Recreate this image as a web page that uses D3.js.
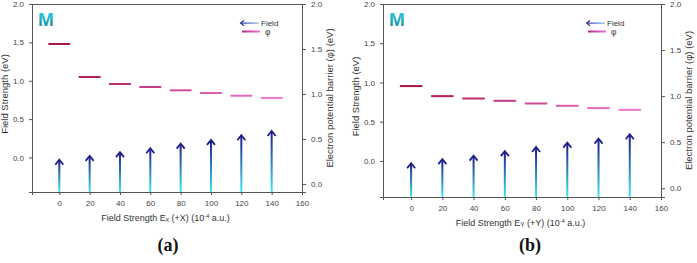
<!DOCTYPE html>
<html>
<head>
<meta charset="utf-8">
<script src="https://cdn.jsdelivr.net/npm/d3@7"></script>
<style>
  body { margin: 0; background: #fff; }
  svg { display: block; font-family: "Liberation Sans", Arial, sans-serif; }
  .serif { font-family: "Liberation Serif", "Times New Roman", Times, serif; }
</style>
</head>
<body>
<script>
// data
const fieldX = [0, 20, 40, 60, 80, 100, 120, 140];
const xTicks = [0, 20, 40, 60, 80, 100, 120, 140, 160];
const yTicks = [0.0, 0.5, 1.0, 1.5, 2.0];

const phiA   = [1.556, 1.189, 1.111, 1.078, 1.041, 1.011, 0.981, 0.956];
const fieldA = [-0.03, 0.02, 0.07, 0.12, 0.18, 0.23, 0.29, 0.345];

const phiB   = [1.109, 1.0, 0.974, 0.949, 0.92, 0.895, 0.87, 0.851];
const fieldB = [-0.03, 0.022, 0.068, 0.124, 0.178, 0.233, 0.284, 0.34];

const W = 697, H = 263;
const svg = d3.select("body").append("svg")
   .attr("width", W)
   .attr("height", H);

// gradients
const defs = svg.append("defs");
function vGrad(id, top, bottom) {
  const g = defs.append("linearGradient").attr("id", id)
     .attr("x1", 0).attr("y1", 0).attr("x2", 0).attr("y2", 1);
  g.append("stop").attr("offset", "0%").attr("stop-color", top);
  g.append("stop").attr("offset", "100%").attr("stop-color", bottom);
}
function hGrad(id, left, right) {
  const g = defs.append("linearGradient").attr("id", id)
     .attr("x1", 0).attr("y1", 0).attr("x2", 1).attr("y2", 0);
  g.append("stop").attr("offset", "0%").attr("stop-color", left);
  g.append("stop").attr("offset", "100%").attr("stop-color", right);
}
vGrad("arrowGrad", "#1c1c8c", "#3fe6f2");
vGrad("mGrad", "#2fd3e6", "#0f8799");
hGrad("legArrow", "#2a2a9a", "#7fc0ee");
hGrad("legPhi", "#b8257e", "#f07ad6");

const phiColor = d3.interpolateRgb("#a8114a", "#ee78d4");

function ShowPanel(o) {
  const g = svg.append("g").attr("transform", "translate(" + o.left + "," + o.top + ")");
  const w = o.width, h = o.height;

  const x = d3.scaleLinear().domain([-18, 160]).range([0, w]);
  const yL = d3.scaleLinear().domain(o.leftDomain).range([h, 0]);
  const yR = d3.scaleLinear().domain(o.rightDomain).range([h, 0]);

  const fmt = d3.format(".1f");

  const ax = g.append("g").attr("transform", "translate(0," + h + ")")
     .call(d3.axisBottom(x).tickValues(xTicks).tickSize(3).tickPadding(5));
  const al = g.append("g")
     .call(d3.axisLeft(yL).tickValues(yTicks).tickFormat(fmt).tickSize(3).tickPadding(5));
  const ar = g.append("g").attr("transform", "translate(" + w + ",0)")
     .call(d3.axisRight(yR).tickValues(yTicks).tickFormat(fmt).tickSize(4).tickPadding(5));

  [ax, al, ar].forEach(a => {
    a.select(".domain").attr("stroke", "#555");
    a.selectAll(".tick line").attr("stroke", "#555");
    a.selectAll(".tick text").attr("fill", "#444").style("font-size", "8px")
      .style("font-family", "'Liberation Sans', Arial, sans-serif");
  });

  // top border
  g.append("line")
     .attr("x1", 0).attr("x2", w).attr("y1", 0.5).attr("y2", 0.5)
     .attr("stroke", "#555");

  // phi segments
  g.selectAll(".phi")
     .data(o.phi)
     .enter()
     .append("rect")
     .attr("x", (d, i) => x(fieldX[i] - 7.2))
     .attr("width", (d, i) => x(fieldX[i] + 7.2) - x(fieldX[i] - 7.2))
     .attr("y", d => yR(d) - 1)
     .attr("height", 2)
     .style("fill", (d, i) => phiColor(i / (o.phi.length - 1)));

  // field arrows
  const arrows = g.selectAll(".arrow")
     .data(o.field)
     .enter()
     .append("g");
  arrows.append("rect")
     .attr("x", (d, i) => x(fieldX[i]) - 1)
     .attr("width", 2)
     .attr("y", d => yL(d) + 1)
     .attr("height", d => h - yL(d) - 1)
     .style("fill", "url(#arrowGrad)");
  arrows.append("path")
     .attr("d", (d, i) => {
       const cx = x(fieldX[i]), ty = yL(d);
       return "M" + (cx - 4) + "," + (ty + 5) + "L" + cx + "," + ty + "L" + (cx + 4) + "," + (ty + 5);
     })
     .attr("fill", "none")
     .attr("stroke", "#1c1c8c")
     .attr("stroke-width", 1.8)
     .attr("stroke-linejoin", "miter");

  // M label
  g.append("text")
     .attr("x", 6)
     .attr("y", 22)
     .style("font-size", "19px")
     .style("font-weight", "bold")
     .style("fill", "url(#mGrad)")
     .text("M");

  // legend
  const lg = g.append("g").attr("transform", "translate(" + o.legX + ",0)");
  lg.append("rect").attr("x", 2).attr("y", 18.5).attr("width", 18).attr("height", 1.2)
     .style("fill", "url(#legArrow)");
  lg.append("path").attr("d", "M5,16.5L1.5,19.1L5,21.7")
     .attr("fill", "none").attr("stroke", "#2a2a9a").attr("stroke-width", 1.1);
  lg.append("text").attr("x", 22).attr("y", 21.8)
     .style("font-size", "8px").style("fill", "#333").text("Field");
  lg.append("rect").attr("x", 3).attr("y", 26.5).attr("width", 18).attr("height", 2)
     .style("fill", "url(#legPhi)");
  lg.append("text").attr("x", 26).attr("y", 30.5)
     .style("font-size", "8.5px").style("fill", "#333").text("φ");

  // axis titles
  g.append("text")
     .attr("transform", "rotate(-90)")
     .attr("x", -h / 2 + 4)
     .attr("y", -24)
     .attr("text-anchor", "middle")
     .style("font-size", "9.5px").style("fill", "#333")
     .text("Field Strength (eV)");

  g.append("text")
     .attr("transform", "rotate(-90)")
     .attr("x", -h / 2)
     .attr("y", w + 31)
     .attr("text-anchor", "middle")
     .style("font-size", "9.5px").style("fill", "#333")
     .text("Electron potential barrier (φ) (eV)");

  const xt = g.append("text")
     .attr("x", x(o.titleCenter))
     .attr("y", h + 29)
     .attr("text-anchor", "middle")
     .style("font-size", "9px").style("fill", "#333");
  xt.append("tspan").text("Field Strength E");
  xt.append("tspan").style("font-size", "6.5px").attr("dy", 1).text(o.sub);
  xt.append("tspan").attr("dy", -1).text(" (+" + o.axisName + ") (10");
  xt.append("tspan").style("font-size", "5.5px").attr("dy", -3.5).text("-4");
  xt.append("tspan").attr("dy", 3.5).text(" a.u.)");

  // panel letter
  svg.append("text")
     .attr("class", "serif")
     .attr("x", o.labelX)
     .attr("y", 251)
     .attr("text-anchor", "middle")
     .style("font-weight", "bold")
     .style("font-size", "18px")
     .style("fill", "#111")
     .text(o.label);
}

ShowPanel({
  left: 32, top: 4, width: 270, height: 188,
  leftDomain: [-0.45, 2.0], rightDomain: [-0.089, 2.0],
  phi: phiA, field: fieldA, legX: 207,
  sub: "x", axisName: "X", titleCenter: 70, label: "(a)", labelX: 168
});

ShowPanel({
  left: 383, top: 4, width: 278, height: 193,
  leftDomain: [-0.46, 2.0], rightDomain: [-0.095, 2.0],
  phi: phiB, field: fieldB, legX: 202,
  sub: "Y", axisName: "Y", titleCenter: 70, label: "(b)", labelX: 530
});
</script>
</body>
</html>
